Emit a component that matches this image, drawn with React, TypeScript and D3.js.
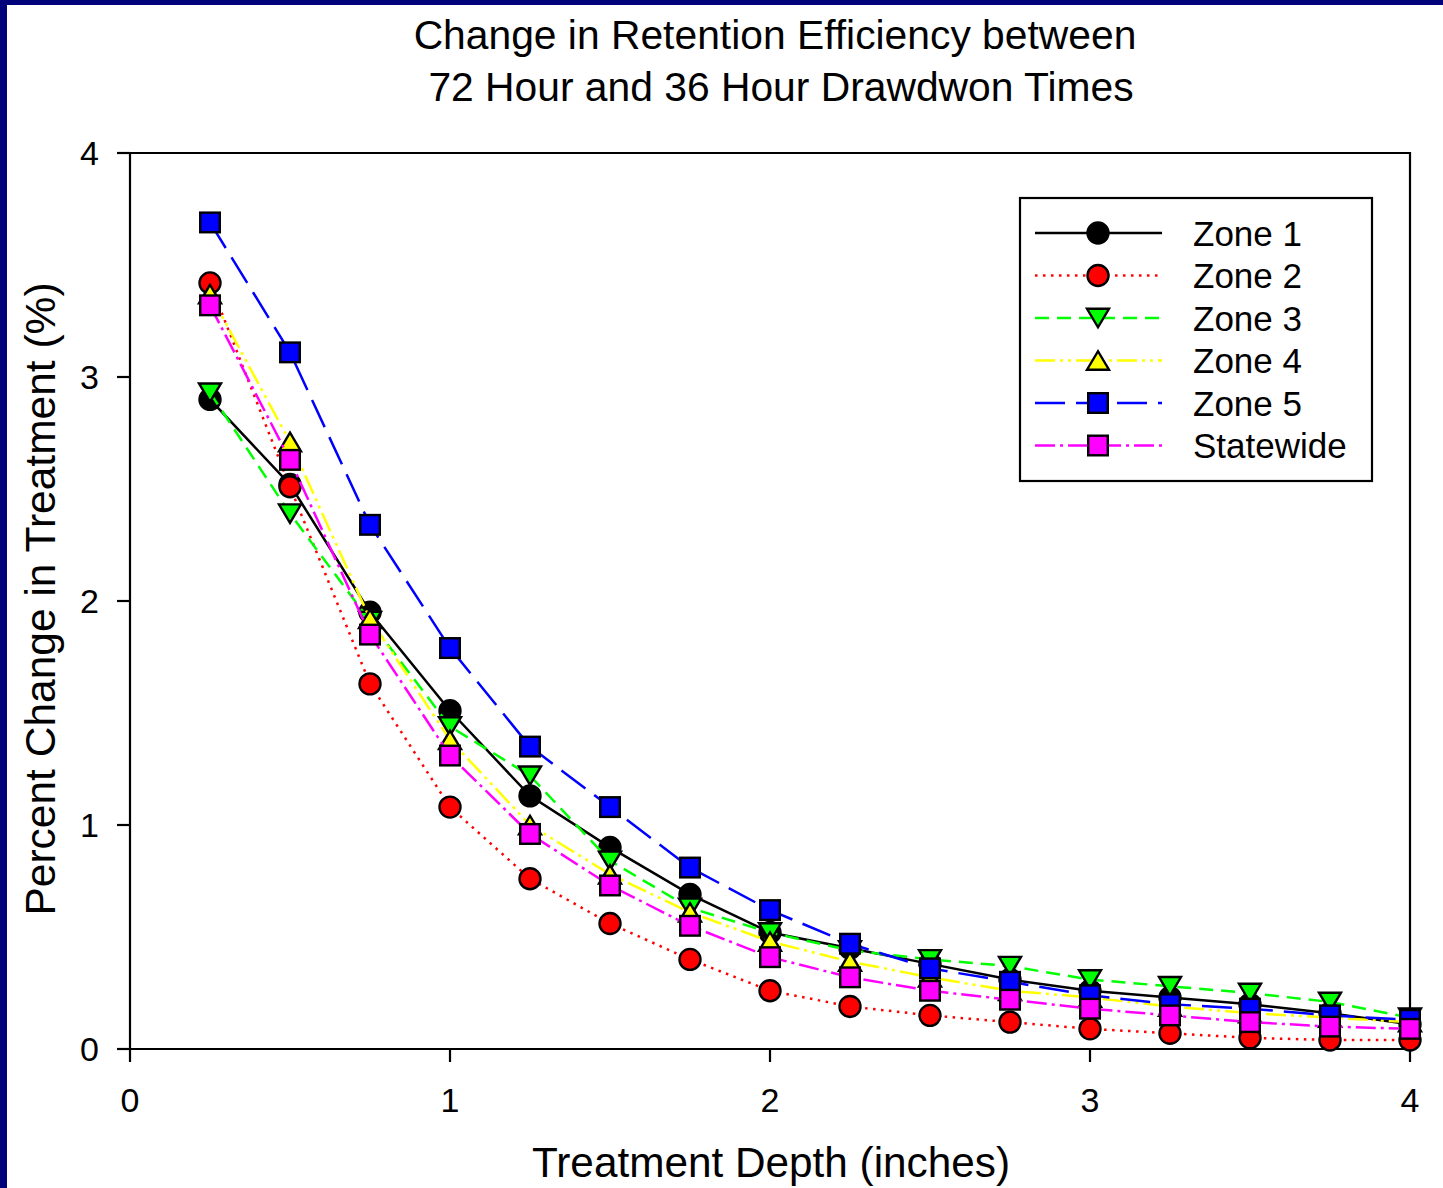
import React from "react";
import * as d3 from "d3";

const depths = [0.25, 0.5, 0.75, 1.0, 1.25, 1.5, 1.75, 2.0, 2.25, 2.5, 2.75, 3.0, 3.25, 3.5, 3.75, 4.0];
const zone1 = [2.90, 2.52, 1.95, 1.51, 1.13, 0.90, 0.69, 0.52, 0.45, 0.38, 0.31, 0.26, 0.23, 0.20, 0.16, 0.11];
const zone2 = [3.42, 2.51, 1.63, 1.08, 0.76, 0.56, 0.40, 0.26, 0.19, 0.15, 0.12, 0.09, 0.07, 0.05, 0.04, 0.04];
const zone3 = [2.93, 2.39, 1.91, 1.44, 1.22, 0.84, 0.63, 0.52, 0.44, 0.40, 0.37, 0.31, 0.28, 0.25, 0.21, 0.14];
const zone4 = [3.37, 2.71, 1.92, 1.38, 1.00, 0.78, 0.61, 0.48, 0.39, 0.32, 0.26, 0.23, 0.19, 0.16, 0.14, 0.12];
const zone5 = [3.69, 3.11, 2.34, 1.79, 1.35, 1.08, 0.81, 0.62, 0.47, 0.36, 0.30, 0.24, 0.20, 0.18, 0.15, 0.13];
const statewide = [3.32, 2.63, 1.85, 1.31, 0.96, 0.73, 0.55, 0.41, 0.32, 0.26, 0.22, 0.18, 0.15, 0.12, 0.10, 0.09];

const seriesNames = ["Zone 1", "Zone 2", "Zone 3", "Zone 4", "Zone 5", "Statewide"];
const xTicks = [0, 1, 2, 3, 4];
const yTicks = [0, 1, 2, 3, 4];

const titleLines = ["Change in Retention Efficiency between", "72 Hour and 36 Hour Drawdwon Times"];
const xLabel = "Treatment Depth (inches)";
const yLabel = "Percent Change in Treatment (%)";

type Shape = "circle" | "down" | "up" | "square";
const styles: { color: string; dash: string | null; shape: Shape }[] = [
  { color: "#000000", dash: null, shape: "circle" },
  { color: "#ff0000", dash: "2.5,5.5", shape: "circle" },
  { color: "#00ff00", dash: "14,8", shape: "down" },
  { color: "#ffff00", dash: "20,5,3,5,3,5", shape: "up" },
  { color: "#0000ff", dash: "30,11", shape: "square" },
  { color: "#ff00ff", dash: "20,5,3,5", shape: "square" },
];
const seriesData = [zone1, zone2, zone3, zone4, zone5, statewide];

const FONT = "'Liberation Sans', Arial, Helvetica, sans-serif";

function Marker({ shape, x, y, fill }: { shape: Shape; x: number; y: number; fill: string }) {
  const sw = 2.4;
  if (shape === "circle") return <circle cx={x} cy={y} r={10.5} fill={fill} stroke="#000" strokeWidth={sw} />;
  if (shape === "square") return <rect x={x - 9.8} y={y - 9.8} width={19.6} height={19.6} fill={fill} stroke="#000" strokeWidth={sw} />;
  const w = 11;
  const h = 18.5;
  if (shape === "down") {
    const pts = `${x - w},${y - h / 2} ${x + w},${y - h / 2} ${x},${y + h / 2}`;
    return <polygon points={pts} fill={fill} stroke="#000" strokeWidth={sw} />;
  }
  const pts = `${x - w},${y + h / 2} ${x + w},${y + h / 2} ${x},${y - h / 2}`;
  return <polygon points={pts} fill={fill} stroke="#000" strokeWidth={sw} />;
}

export default function App() {
  const W = 1443;
  const H = 1188;
  const left = 130, right = 1410, top = 153, bottom = 1049;
  const x = d3.scaleLinear().domain([0, 4]).range([left, right]);
  const y = d3.scaleLinear().domain([0, 4]).range([bottom, top]);
  const line = d3.line<[number, number]>().x((d) => x(d[0])).y((d) => y(d[1]));

  const legX1 = 1035, legX2 = 1162, legMX = 1098, legTX = 1193;
  const legRows = [233, 275.5, 318, 360.5, 403, 445.5];

  return (
    <svg width={W} height={H} style={{ position: "absolute", left: 0, top: 0, background: "#fff" }} fontFamily={FONT}>
      <rect x={0} y={0} width={W} height={H} fill="#fff" />
      <rect x={0} y={0} width={W} height={5} fill="#02027a" />
      <rect x={0} y={0} width={7} height={H} fill="#02027a" />

      <text x={775} y={49} fontSize={40.8} textAnchor="middle" fill="#000">{titleLines[0]}</text>
      <text x={781} y={101} fontSize={40.8} textAnchor="middle" fill="#000">{titleLines[1]}</text>

      <path d={`M${left},${top} H${right} V${bottom} H${left} Z`} fill="none" stroke="#000" strokeWidth={2.2} />

      {yTicks.map((t) => (
        <g key={"y" + t}>
          <line x1={left - 13} x2={left} y1={y(t)} y2={y(t)} stroke="#000" strokeWidth={2.2} />
          <text x={99} y={y(t) + 12} fontSize={34} textAnchor="end">{t}</text>
        </g>
      ))}
      {xTicks.map((t) => (
        <g key={"x" + t}>
          <line x1={x(t)} x2={x(t)} y1={bottom} y2={bottom + 13} stroke="#000" strokeWidth={2.2} />
          <text x={x(t)} y={1112} fontSize={34} textAnchor="middle">{t}</text>
        </g>
      ))}

      <text x={771} y={1177} fontSize={42.3} textAnchor="middle">{xLabel}</text>
      <text transform={`translate(55,599) rotate(-90)`} fontSize={42.5} textAnchor="middle">{yLabel}</text>

      {seriesData.map((vals, i) => {
        const st = styles[i];
        const pts = depths.map((d, j) => [d, vals[j]] as [number, number]);
        return (
          <g key={seriesNames[i]}>
            <path d={line(pts) || ""} fill="none" stroke={st.color} strokeWidth={2.5}
              strokeDasharray={st.dash || undefined} />
            {pts.map((p, j) => (
              <Marker key={j} shape={st.shape} x={x(p[0])} y={y(p[1])} fill={st.color} />
            ))}
          </g>
        );
      })}

      <rect x={1020} y={198} width={352} height={283} fill="#fff" stroke="#000" strokeWidth={2.2} />
      {seriesNames.map((name, i) => {
        const st = styles[i];
        const ry = legRows[i];
        return (
          <g key={"leg" + name}>
            <line x1={legX1} x2={legX2} y1={ry} y2={ry} stroke={st.color} strokeWidth={2.5}
              strokeDasharray={st.dash || undefined} />
            <Marker shape={st.shape} x={legMX} y={ry} fill={st.color} />
            <text x={legTX} y={ry + 12.5} fontSize={35}>{name}</text>
          </g>
        );
      })}
    </svg>
  );
}
